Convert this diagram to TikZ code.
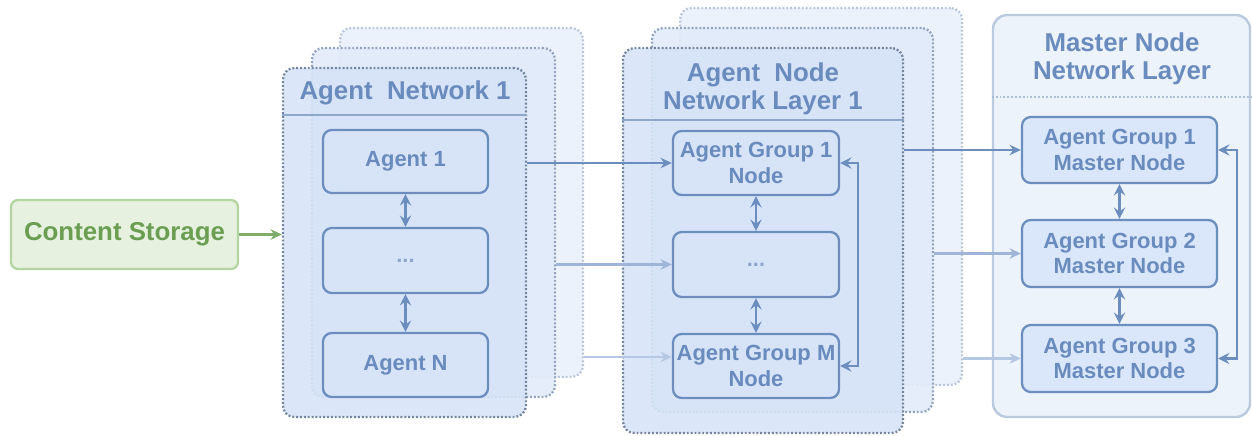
\documentclass[tikz,border=0pt]{standalone}
\usepackage{fontspec}
\setmainfont{Liberation Sans}
\usetikzlibrary{arrows.meta,calc}
\definecolor{bluetxt}{HTML}{6A8BBD}
\definecolor{bluebox}{HTML}{6C8EBF}
\definecolor{frontfill}{HTML}{D6E4F8}
\definecolor{frontdraw}{HTML}{74869F}
\definecolor{midfill}{HTML}{E2EBF9}
\definecolor{middraw}{HTML}{93A4BE}
\definecolor{backfill}{HTML}{ECF2FB}
\definecolor{backdraw}{HTML}{BAC6D9}
\definecolor{divline}{HTML}{8CA6CC}
\definecolor{masterfill}{HTML}{EDF3FB}
\definecolor{masterdraw}{HTML}{BACADF}
\definecolor{mboxfill}{HTML}{DAE7FA}
\definecolor{arrdark}{HTML}{6C8EBF}
\definecolor{arrmid}{HTML}{9EB5D7}
\definecolor{arrlight}{HTML}{B5C7E1}
\definecolor{greenfill}{HTML}{E6F1DF}
\definecolor{greendraw}{HTML}{B3D5A2}
\definecolor{greentxt}{HTML}{6B9E52}
\definecolor{dotstxt}{HTML}{8FA6CB}
\begin{document}
\begin{tikzpicture}[x=0.02cm,y=-0.02cm,
  sz/.style 2 args={minimum width=#1*0.02cm,minimum height=#2*0.02cm},
  layer/.style={draw, rounded corners=6.5pt, line width=1.3pt, dash pattern=on 1.1pt off 1.1pt, inner sep=0pt},
  frontlayer/.style={layer, draw=frontdraw, fill=frontfill, fill opacity=0.88, draw opacity=1},
  midlayer/.style={layer, draw=middraw, fill=midfill, fill opacity=0.9, draw opacity=1},
  backlayer/.style={layer, draw=backdraw, fill=backfill},
  ibox/.style={draw=bluebox, line width=1.3pt, rounded corners=5pt, inner sep=0pt, align=center,
     text=bluetxt, font=\fontsize{12.5}{14.7}\selectfont\bfseries},
  title/.style={text=bluetxt, align=center, font=\fontsize{14.7}{16}\selectfont\bfseries, inner sep=0pt},
  dots/.style={text=dotstxt, font=\fontsize{12.5}{14.7}\selectfont\bfseries},
  tip/.style={-{Stealth[length=6.5pt,width=6pt,inset=2.2pt]}},
  dtip/.style={{Stealth[length=6.5pt,width=6.5pt,inset=2.4pt]}-{Stealth[length=6.5pt,width=6.5pt,inset=2.4pt]}},
  con/.style={line width=1.2pt, draw=arrdark, tip},
  conmid/.style={line width=1.2pt, draw=arrmid, tip},
  conlight/.style={line width=1.2pt, draw=arrlight, tip},
  dcon/.style={line width=1.4pt, draw=arrdark, dtip},
]
\useasboundingbox (0,0) rectangle (1252,436);

% Content storage
\node[sz={227}{69}, draw=greendraw, line width=1.3pt, fill=greenfill, rounded corners=4pt,
  text=greentxt, font=\fontsize{14.7}{16}\selectfont\bfseries] (cs) at (124.5,234.5) {Content Storage};

% Agent network stack
\node[backlayer, sz={243}{349}] (anB) at (461.5,202.5) {};
\node[midlayer, sz={243}{349}] (anM) at (433.5,222.5) {};
\node[frontlayer, sz={243}{349}] (anF) at (404.5,242.5) {};
\coordinate (d1) at (0,115);
\draw[divline, line width=1.1pt] (anF.west |- d1) -- (anF.east |- d1);
\node[title] (t1) at (405,93) {Agent\ \ Network 1};
\node[ibox, sz={165}{63}] (a1) at (405.5,161.5) {Agent 1};
\node[ibox, sz={165}{65}] (ad) at (405.5,260.5) {};
\node[dots] (adt) at (ad.center) {...};
\node[ibox, sz={165}{64}] (aN) at (405.5,365) {Agent N};
\draw[dcon] (a1.south) -- (ad.north);
\draw[dcon] (ad.south) -- (aN.north);

% Agent node network layer stack
\node[backlayer, sz={282}{377}] (nlB) at (821,196.5) {};
\node[midlayer, sz={281}{384}] (nlM) at (792.5,220) {};
\node[frontlayer, sz={280}{385}] (nlF) at (763,240.5) {};
\coordinate (d2) at (0,120);
\draw[divline, line width=1.1pt] (nlF.west |- d2) -- (nlF.east |- d2);
\node[title] (t2) at (763,89) {Agent\ \ Node\\Network Layer 1};
\node[ibox, sz={166}{64}] (g1) at (756,163) {Agent Group 1\\Node};
\node[ibox, sz={166}{65}] (gd) at (756,264.5) {};
\node[dots] (gdt) at (gd.center) {...};
\node[ibox, sz={166}{64}] (gm) at (756,366) {Agent Group M\\Node};
\draw[dcon] (g1.south) -- (gd.north);
\draw[dcon] (gd.south) -- (gm.north);
\draw[line width=1.3pt, draw=arrdark, dtip] (g1.east) -- ++(18,0) coordinate (f1) |- (gm.east);

% Master node network layer
\node[draw=masterdraw, fill=masterfill, line width=1.4pt, rounded corners=8pt, sz={257}{402}, inner sep=0pt] (ml) at (1121.5,216) {};
\node[title] (t3) at (1122,59) {Master Node\\Network Layer};
\coordinate (d3) at (0,97);
\draw[masterdraw!80!bluebox, line width=1.1pt, dash pattern=on 1.1pt off 1.1pt] (ml.west |- d3) -- (ml.east |- d3);
\node[ibox, fill=mboxfill, sz={195}{66}] (m1) at (1119.5,150) {Agent Group 1\\Master Node};
\node[ibox, fill=mboxfill, sz={195}{67}] (m2) at (1119.5,253.5) {Agent Group 2\\Master Node};
\node[ibox, fill=mboxfill, sz={195}{67}] (m3) at (1119.5,358.5) {Agent Group 3\\Master Node};
\draw[dcon] (m1.south) -- (m2.north);
\draw[dcon] (m2.south) -- (m3.north);
\draw[line width=1.3pt, draw=arrdark, dtip] (m1.east) -- ++(19,0) coordinate (f2) |- (m3.east);

% Connectors between stages
\draw[line width=1.3pt, draw=greentxt!85, -{Stealth[length=6.5pt,width=6pt,inset=2.2pt]}] (cs.east) -- (cs.east -| anF.west);
\draw[con] (anF.east |- g1.west) -- (g1.west);
\draw[conmid] (anM.east |- gd.west) -- (gd.west);
\coordinate (gmin) at ($(gm.west)+(0,-9)$);
\draw[conlight] (anB.east |- gmin) -- (gmin);
\draw[con] (nlF.east |- m1.west) -- (m1.west);
\draw[conmid] (nlM.east |- m2.west) -- (m2.west);
\draw[conlight] (nlB.east |- m3.west) -- (m3.west);
\end{tikzpicture}
\end{document}
